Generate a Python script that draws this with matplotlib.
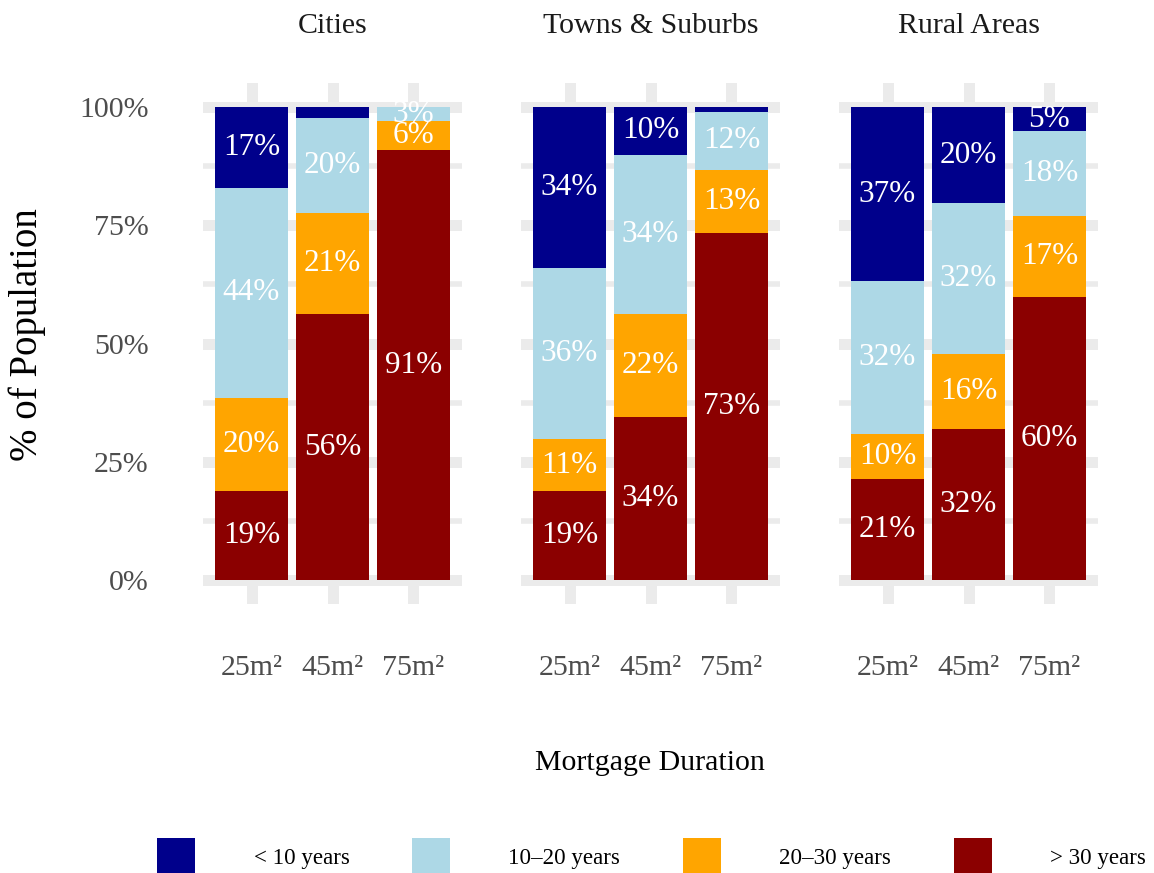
import numpy as np
import matplotlib.pyplot as plt
from matplotlib.patches import Patch

plt.rcParams['font.family'] = ['Liberation Serif', 'DejaVu Serif']

regions = ['Cities', 'Towns & Suburbs', 'Rural Areas']
sizes = ['25m²', '45m²', '75m²']
durations = ['< 10 years', '10–20 years', '20–30 years', '> 30 years']
colors = ['#00008B', '#ADD8E6', '#FFA500', '#8B0000']

# rows follow durations, columns follow sizes (percent of population)
cities_pct = [[17.1, 2.3, 0.0],
              [44.4, 20.1, 3.0],
              [19.7, 21.4, 6.1],
              [18.8, 56.2, 90.9]]
towns_pct = [[34.0, 10.1, 1.0],
             [36.2, 33.7, 12.3],
             [11.0, 21.8, 13.4],
             [18.8, 34.4, 73.3]]
rural_pct = [[36.8, 20.3, 5.1],
             [32.3, 31.9, 18.0],
             [9.6, 15.9, 17.1],
             [21.3, 31.9, 59.8]]
region_data = [cities_pct, towns_pct, rural_pct]

yticks = [0, 25, 50, 75, 100]
ytick_labels = ['0%', '25%', '50%', '75%', '100%']

W, H = 1154, 873
fig = plt.figure(figsize=(W / 100, H / 100), dpi=100)

grid_col = '#EBEBEB'
x = np.arange(len(sizes))
panel_left = [203, 521, 839]
for i, (name, data) in enumerate(zip(regions, region_data)):
    ax = fig.add_axes([panel_left[i] / W, (H - 603.6) / H, 259 / W, 520.2 / H])
    vals = np.array(data)
    bottom = np.zeros(len(sizes))
    # stack from "> 30 years" at the bottom up to "< 10 years"
    for k in range(len(durations) - 1, -1, -1):
        ax.bar(x, vals[k], 0.9, bottom=bottom, color=colors[k], zorder=2)
        for j in range(len(sizes)):
            if round(vals[k][j]) >= 3:
                ax.text(x[j], bottom[j] + vals[k][j] / 2, f'{round(vals[k][j])}%',
                        ha='center', va='center', color='white', fontsize=22.5, zorder=3)
        bottom = bottom + vals[k]

    ax.set_xlim(-0.6, 2.6)
    ax.set_ylim(-5, 105)
    ax.set_xticks(x)
    ax.set_xticklabels(sizes)
    ax.set_yticks(yticks)
    ax.set_yticks([12.5, 37.5, 62.5, 87.5], minor=True)
    if i == 0:
        ax.set_yticklabels(ytick_labels)
    else:
        ax.set_yticklabels([])
    ax.tick_params(axis='both', which='both', length=0, labelsize=21.5, colors='#4D4D4D')
    ax.tick_params(axis='y', pad=39)
    ax.tick_params(axis='x', pad=37)
    ax.grid(True, which='major', color=grid_col, linewidth=7.9)
    ax.grid(True, which='minor', axis='y', color=grid_col, linewidth=4.0)
    ax.set_axisbelow(True)
    for s in ax.spines.values():
        s.set_visible(False)
    ax.set_title(name, fontsize=21.5, color='#1A1A1A', pad=36)

fig.text(650 / W, (H - 770) / H, 'Mortgage Duration', ha='center', va='baseline',
         fontsize=21.5)
fig.text(27 / W, (H - 335) / H, '% of Population', rotation=90, ha='center',
         va='center', fontsize=28)

handles = [Patch(facecolor=c, label=l) for c, l in zip(colors, durations)]
fig.legend(handles=handles, loc='center', bbox_to_anchor=(651.5 / W, (H - 857) / H),
           ncol=4, frameon=False, fontsize=16.6, handlelength=1.65, handleheight=2.2,
           handletextpad=2.55, columnspacing=2.7)

fig.savefig('out.png', dpi=100)
